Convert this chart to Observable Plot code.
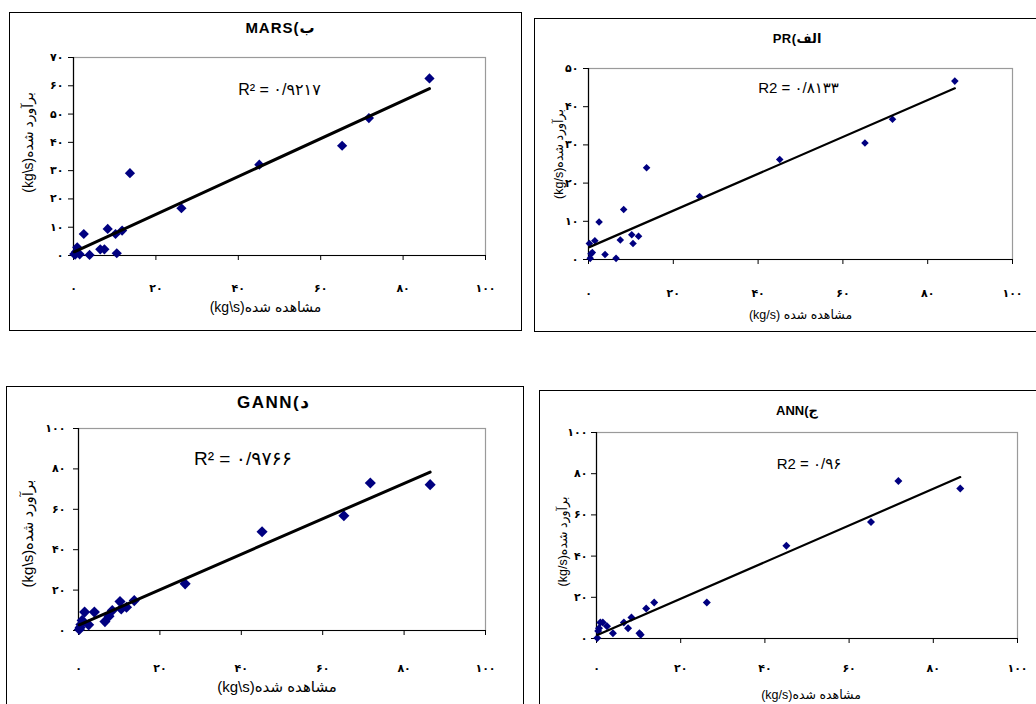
<!DOCTYPE html>
<html>
<head>
<meta charset="utf-8">
<script src="https://cdn.jsdelivr.net/npm/d3@7"></script>
<script src="https://cdn.jsdelivr.net/npm/@observablehq/plot@0.6"></script>
<style>
  html, body { margin: 0; padding: 0; background: #fff; }
  #page { position: relative; width: 1036px; height: 704px; overflow: hidden; background: #fff;
          font-family: "Liberation Sans", Arial, "DejaVu Sans", sans-serif; }
  .box { position: absolute; border: 1.5px solid #000; box-sizing: border-box; }
  .title { position: absolute; transform: translate(-50%, -50%); font-weight: bold; white-space: nowrap; color: #000; direction: ltr; }
  .title .p { unicode-bidi: isolate; direction: ltr; }
  .holder { position: absolute; }
</style>
</head>
<body>
<div id="page"></div>
<script>
// ---- data ----
const observed  = [0.2, 0.4, 0.6, 0.9, 1.5, 2.5, 3.9, 6.5, 7.5, 8.3, 10.2, 10.5, 11.8, 13.7, 26.2, 45.1, 65.2, 71.7, 86.4];
const predMARS  = [0.5, 0.3, 1.2, 2.9, 0.4, 7.6, 0.2, 2.2, 2.2, 9.4, 7.6, 0.8, 8.8, 29.1, 16.7, 32.1, 38.8, 48.6, 62.6];
const predPR    = [4.2, 0.3, 1.5, 1.8, 4.9, 9.8, 1.3, 0.3, 5.1, 13.1, 6.5, 4.2, 6.1, 24.0, 16.5, 26.2, 30.5, 36.7, 46.7];
const predGANN  = [0.5, 1.5, 3.0, 5.0, 9.1, 2.8, 9.1, 4.4, 7.1, 9.9, 14.3, 10.7, 11.5, 14.8, 23.1, 48.9, 56.8, 73.0, 72.2];
const predANN   = [0.2, 3.7, 5.0, 7.8, 7.8, 6.0, 2.6, 7.8, 5.0, 10.2, 2.6, 1.8, 14.6, 17.5, 17.5, 45.0, 56.6, 76.5, 72.8];

const xTicks      = [0, 20, 40, 60, 80, 100];
const yTicksMARS  = [0, 10, 20, 30, 40, 50, 60, 70];
const yTicksPR    = [0, 10, 20, 30, 40, 50];
const yTicks100   = [0, 20, 40, 60, 80, 100];

const titleName  = { MARS: "MARS", PR: "PR", GANN: "GANN", ANN: "ANN" };
const titleLabel = { MARS: "ب", PR: "الف", GANN: "د", ANN: "ج" };
const r2Text  = { MARS: "R² = ۰/۹۲۱۷", PR: "R2 = ۰/۸۱۳۳", GANN: "R² = ۰/۹۷۶۶", ANN: "R2 = ۰/۹۶" };
const yTitles = { MARS: "(kg\\s)برآورد شده", PR: "(kg/s)برآورد شده", GANN: "(kg\\s)برآورد شده", ANN: "(kg/s)برآورد شده" };
const xTitles = { MARS: "(kg\\s)مشاهده شده", PR: "(kg/s) مشاهده شده", GANN: "(kg\\s)مشاهده شده", ANN: "(kg/s)مشاهده شده" };

const fa = d => String(d).replace(/\d/g, c => "۰۱۲۳۴۵۶۷۸۹"[+c]);

// ---- layout ----
const panels = [
  { key: "MARS", pred: predMARS, ymax: 70, yTicks: yTicksMARS,
    box: [9, 12, 513, 319], svg: [9, 12, 512, 318], m: [45, 36, 75, 64],
    xPad: 24, yPad: 5, r: 4.6, sw: 3, title: [280, 28, 15, 1], r2: [0, 32, 16],
    yt: [-45, -14, 14], xt: [-14, 52, 14] },
  { key: "PR", pred: predPR, ymax: 50, yTicks: yTicksPR,
    box: [534, 18, 520, 314], svg: [534, 18, 502, 313], m: [50, 24, 72, 54],
    xPad: 25, yPad: 5, r: 3.4, sw: 2.2, title: [797, 38, 13, 0.5], r2: [-2, 20, 15],
    yt: [-30, -10, 12.5], xt: [0, 55, 12.5] },
  { key: "GANN", pred: predGANN, ymax: 100, yTicks: yTicks100,
    box: [6, 386, 518, 330], svg: [6, 386, 518, 318], m: [42, 39, 74, 72],
    xPad: 29, yPad: 8, r: 5, sw: 3, title: [273, 402, 17, 1.5], r2: [-39, 30, 19],
    yt: [-50, 4, 15], xt: [-5, 57, 15] },
  { key: "ANN", pred: predANN, ymax: 100, yTicks: yTicks100,
    box: [539, 390, 520, 330], svg: [539, 390, 497, 314], m: [42, 19, 66, 57],
    xPad: 21, yPad: 4, r: 3.6, sw: 2.2, title: [797, 410, 13, 0], r2: [2, 32, 15],
    yt: [-34, 6, 12.5], xt: [4, 56, 12.5] }
];

const page = document.getElementById("page");

for (const p of panels) {
  const box = document.createElement("div");
  box.className = "box";
  Object.assign(box.style, { left: p.box[0] + "px", top: p.box[1] + "px", width: p.box[2] + "px", height: p.box[3] + "px" });
  page.appendChild(box);

  const data = observed.map((o, i) => ({ obs: o, est: p.pred[i] }));
  const [mt, mr, mb, ml] = p.m;
  const chart = Plot.plot({
    width: p.svg[2], height: p.svg[3],
    marginTop: mt, marginRight: mr, marginBottom: mb, marginLeft: ml,
    style: { fontFamily: "'Liberation Sans', Arial, 'DejaVu Sans', sans-serif", background: "transparent", overflow: "visible" },
    x: { domain: [0, 100] },
    y: { domain: [0, p.ymax] },
    marks: [
      Plot.frame({ stroke: "#9a9a9a", strokeWidth: 1.2 }),
      Plot.ruleY([0], { stroke: "#000", strokeWidth: 1.2 }),
      Plot.ruleX([0], { stroke: "#000", strokeWidth: 1.2 }),
      Plot.axisX({ ticks: xTicks, tickFormat: fa, tickSize: 5, tickPadding: p.xPad, fontSize: 11, fontWeight: "bold", label: null }),
      Plot.axisY({ ticks: p.yTicks, tickFormat: fa, tickSize: 5, tickPadding: p.yPad, fontSize: 11, fontWeight: "bold", label: null }),
      Plot.dot(data, { x: "obs", y: "est", symbol: "diamond2", fill: "#000080", stroke: "none", r: p.r }),
      Plot.linearRegressionY(data, { x: "obs", y: "est", stroke: "#000", strokeWidth: p.sw, ci: 0 }),
      Plot.text([r2Text[p.key]], { frameAnchor: "top", dx: p.r2[0], dy: p.r2[1], fontSize: p.r2[2], lineAnchor: "middle" }),
      Plot.text([yTitles[p.key]], { frameAnchor: "left", textAnchor: "middle", rotate: -90, dx: p.yt[0], dy: p.yt[1], fontSize: p.yt[2], lineAnchor: "middle" }),
      Plot.text([xTitles[p.key]], { frameAnchor: "bottom", textAnchor: "middle", dx: p.xt[0], dy: p.xt[1], fontSize: p.xt[2], lineAnchor: "middle" })
    ]
  });
  const holder = document.createElement("div");
  holder.className = "holder";
  Object.assign(holder.style, { left: p.svg[0] + "px", top: p.svg[1] + "px" });
  holder.appendChild(chart);
  page.appendChild(holder);

  const t = document.createElement("div");
  t.className = "title";
  const n = document.createElement("span"); n.textContent = titleName[p.key];
  const par = document.createElement("span"); par.className = "p"; par.textContent = "(";
  const lab = document.createElement("span"); lab.textContent = titleLabel[p.key];
  t.append(n, par, lab);
  Object.assign(t.style, { left: p.title[0] + "px", top: p.title[1] + "px", fontSize: p.title[2] + "px", letterSpacing: p.title[3] + "px" });
  page.appendChild(t);
}
</script>
</body>
</html>
